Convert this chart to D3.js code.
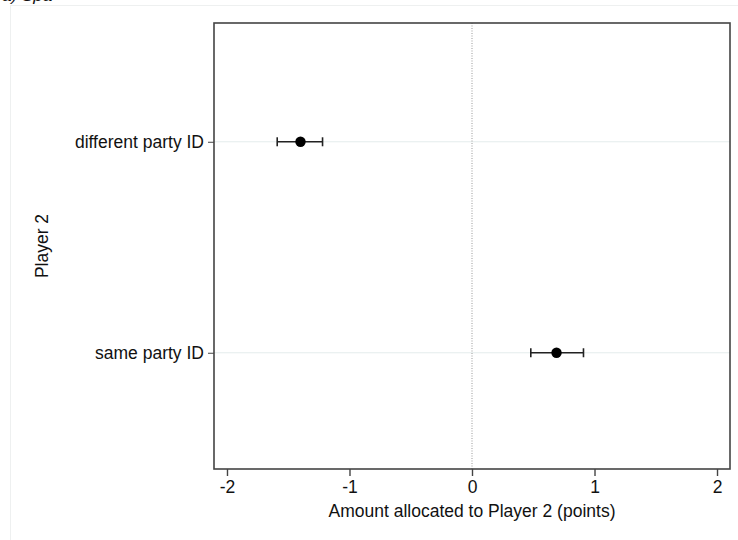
<!DOCTYPE html>
<html>
<head>
<meta charset="utf-8">
<script src="https://cdn.jsdelivr.net/npm/d3@7"></script>
<style>
  body { margin: 0; background: #fff; }
  svg { display: block; font-family: "Liberation Sans", Arial, Helvetica, sans-serif; }
</style>
</head>
<body>
<svg id="chart" width="738" height="540"></svg>
<script>
// Group labels (top to bottom) and their estimates with 95% intervals
const groups = ["different party ID", "same party ID"];
const means = [-1.40, 0.69];
const lower = [-1.59, 0.48];
const upper = [-1.22, 0.91];
const xTicks = [-2, -1, 0, 1, 2];

const svg = d3.select("#chart");
const plot = { left: 214, top: 23, right: 730, bottom: 469 };
const FS = 17.5;

// outer graph region border
svg.append("rect")
  .attr("x", 10.5).attr("y", 5.5)
  .attr("width", 760).attr("height", 560)
  .attr("fill", "none").attr("stroke", "#eef0f0").attr("stroke-width", 1);

// panel caption, running off the top edge
svg.append("text")
  .attr("x", 2).attr("y", 1)
  .attr("font-size", 17).attr("font-style", "italic")
  .attr("fill", "#111")
  .text("a) Spa");

const x = d3.scaleLinear().domain([-2.106, 2.106]).range([plot.left, plot.right]);
const y = d3.scaleLinear().domain([0.437, 2.551]).range([plot.top, plot.bottom]);
const yPos = (i) => y(i + 1);

// horizontal grid lines at each group
svg.append("g").selectAll("line").data(groups).join("line")
  .attr("x1", plot.left).attr("x2", plot.right)
  .attr("y1", (d, i) => yPos(i)).attr("y2", (d, i) => yPos(i))
  .attr("stroke", "#e4ecec").attr("stroke-width", 1);

// reference line at zero
svg.append("line")
  .attr("x1", x(0)).attr("x2", x(0))
  .attr("y1", plot.top).attr("y2", plot.bottom)
  .attr("stroke", "#999").attr("stroke-width", 1)
  .attr("stroke-dasharray", "1,1.5");

// plot frame
svg.append("rect")
  .attr("x", plot.left).attr("y", plot.top)
  .attr("width", plot.right - plot.left).attr("height", plot.bottom - plot.top)
  .attr("fill", "none").attr("stroke", "#444").attr("stroke-width", 1.6);

// x axis (hyphen-minus for negative ticks)
const xAxis = svg.append("g")
  .attr("transform", `translate(0,${plot.bottom})`)
  .call(d3.axisBottom(x).tickValues(xTicks).tickSize(7).tickPadding(5)
    .tickFormat((d) => String(d)));
xAxis.select(".domain").remove();
xAxis.selectAll(".tick line").attr("stroke", "#444").attr("stroke-width", 1.4);
xAxis.selectAll(".tick text")
  .attr("font-size", FS).attr("fill", "#111")
  .attr("font-family", "Liberation Sans, Arial, sans-serif");

// y axis
const yAxis = svg.append("g")
  .attr("transform", `translate(${plot.left},0)`)
  .call(d3.axisLeft(y).tickValues([1, 2]).tickSize(6).tickPadding(4)
    .tickFormat((d) => groups[d - 1]));
yAxis.select(".domain").remove();
yAxis.selectAll(".tick line").attr("stroke", "#444").attr("stroke-width", 1);
yAxis.selectAll(".tick text")
  .attr("font-size", FS).attr("fill", "#111")
  .attr("font-family", "Liberation Sans, Arial, sans-serif");

// axis titles
svg.append("text")
  .attr("x", x(0)).attr("y", 517)
  .attr("text-anchor", "middle").attr("font-size", FS).attr("fill", "#111")
  .text("Amount allocated to Player 2 (points)");
svg.append("text")
  .attr("transform", `translate(48,${(plot.top + plot.bottom) / 2}) rotate(-90)`)
  .attr("text-anchor", "middle").attr("font-size", FS).attr("fill", "#111")
  .text("Player 2");

// error bars and point estimates
const marks = svg.append("g");
groups.forEach((g, i) => {
  const cy = yPos(i);
  marks.append("line")
    .attr("x1", x(lower[i])).attr("x2", x(upper[i]))
    .attr("y1", cy).attr("y2", cy)
    .attr("stroke", "#222").attr("stroke-width", 1.6);
  [lower[i], upper[i]].forEach((v) => {
    marks.append("line")
      .attr("x1", x(v)).attr("x2", x(v))
      .attr("y1", cy - 4.5).attr("y2", cy + 4.5)
      .attr("stroke", "#222").attr("stroke-width", 1.6);
  });
  marks.append("circle")
    .attr("cx", x(means[i])).attr("cy", cy).attr("r", 5.2)
    .attr("fill", "#000");
});
</script>
</body>
</html>
